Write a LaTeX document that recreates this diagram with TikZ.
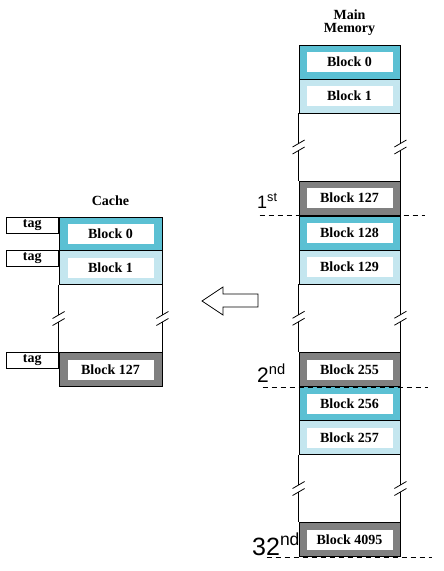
\documentclass[tikz,border=0pt]{standalone}
\usepackage{fontspec}
\setmainfont{Liberation Serif}
\setsansfont{Liberation Sans}
\usetikzlibrary{calc}
\usetikzlibrary{positioning}

\definecolor{blockteal}{RGB}{91,192,211}
\definecolor{blocklight}{RGB}{196,230,239}
\definecolor{blockgray}{RGB}{128,128,128}

\tikzset{
    row/.style={draw, line width=0.8pt, minimum width=101pt, minimum height=34pt, inner sep=0pt},
    crow/.style={row, minimum width=103pt},
    blk/.style={fill=white, minimum width=86pt, minimum height=20pt, inner sep=0pt,
        font=\fontsize{14}{14}\selectfont\bfseries},
    tagbox/.style={draw, line width=0.8pt, minimum width=52pt, minimum height=16pt, inner sep=0pt,
        anchor=north east, font=\fontsize{14}{14}\selectfont\bfseries},
    head/.style={inner sep=0pt, align=center, font=\fontsize{14}{13}\selectfont\bfseries},
    sep/.style={dashed, dash pattern=on 5pt off 4pt, line width=0.8pt},
    ord/.style={inner sep=0pt, anchor=base west, font=\sffamily}
}

% one broken side of a gap
\newcommand{\gapside}[2]{%
    \path (#1) coordinate (gtop) (#2) coordinate (gbot)
        ($(gtop)!0.5!(gbot)$) coordinate (gmid);
    \draw[line width=0.8pt] (gtop) -- ([yshift=3.5pt]gmid);
    \draw[line width=0.8pt] ([yshift=-3.5pt]gmid) -- (gbot);
    \draw[line width=0.8pt] ([shift={(-6pt,0pt)}]gmid) -- ([shift={(6pt,7pt)}]gmid);
    \draw[line width=0.8pt] ([shift={(-6pt,-7pt)}]gmid) -- ([shift={(6pt,0pt)}]gmid);
}

\begin{document}
\begin{tikzpicture}[x=1pt, y=-1pt]

    \useasboundingbox (0,0) rectangle (444,571);

    % main memory
    \foreach \name/\y/\col/\txt in {
        m0/62/blockteal/Block 0,
        m1/96/blocklight/Block 1,
        m127/198/blockgray/Block 127,
        m128/233/blockteal/Block 128,
        m129/267/blocklight/Block 129,
        m255/369.5/blockgray/Block 255,
        m256/403.5/blockteal/Block 256,
        m257/437.5/blocklight/Block 257,
        m4095/539.5/blockgray/Block 4095}
    {
        \node[row, fill=\col] (\name) at (349.5,\y) {};
        \node[blk] (\name txt) at (\name) {\txt};
    }
    \node[head, above=9pt of m0] (memhead) {Main\\Memory};

    \gapside{m1.south west}{m127.north west}
    \gapside{m1.south east}{m127.north east}
    \gapside{m129.south west}{m255.north west}
    \gapside{m129.south east}{m255.north east}
    \gapside{m257.south west}{m4095.north west}
    \gapside{m257.south east}{m4095.north east}

    % boundaries
    \draw[sep] ([xshift=-39pt]m127.south west) -- ([xshift=25pt]m127.south east);
    \draw[sep] ([xshift=-36pt]m255.south west) -- ([xshift=28pt]m255.south east);
    \draw[sep] ([xshift=-32pt]m4095.south west) -- ([xshift=32pt]m4095.south east);

    \node[ord, font=\sffamily\fontsize{18}{18}\selectfont] (first) at (257,208) {1\textsuperscript{st}};
    \node[ord, font=\sffamily\fontsize{21}{21}\selectfont] (second) at (257,382) {2\textsuperscript{nd}};
    \node[ord, font=\sffamily\fontsize{25}{25}\selectfont] (last) at (252,555) {32\textsuperscript{nd}};

    % cache
    \foreach \name/\y/\col/\txt in {
        c0/234/blockteal/Block 0,
        c1/267.5/blocklight/Block 1,
        c127/369.5/blockgray/Block 127}
    {
        \node[crow, fill=\col] (\name) at (110.5,\y) {};
        \node[blk] (\name txt) at (\name) {\txt};
        \node[tagbox] (\name tag) at (\name.north west) {tag};
    }
    \node[head, above=11pt of c0] (cachehead) {Cache};

    \gapside{c1.south west}{c127.north west}
    \gapside{c1.south east}{c127.north east}

    % arrow
    \draw[line width=0.8pt] (202,301) -- (223,287) -- (223,294) -- (258,294)
        -- (258,307) -- (223,307) -- (223,315) -- cycle;

\end{tikzpicture}
\end{document}
